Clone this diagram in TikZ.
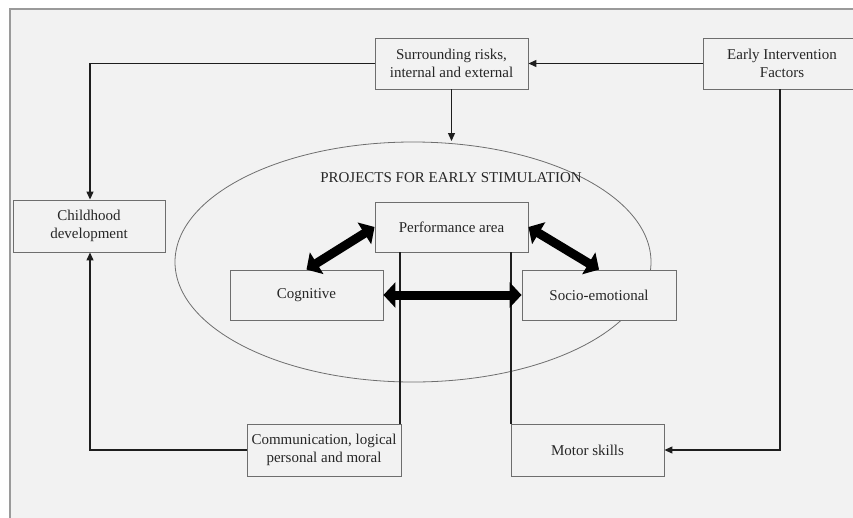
\documentclass[tikz,border=0pt]{standalone}
\usepackage{fontspec}
\setmainfont{Liberation Serif}
\usetikzlibrary{arrows.meta,calc,shapes.geometric}
\definecolor{bgc}{HTML}{F2F2F2}
\definecolor{boxline}{HTML}{6E6E6E}
\definecolor{txt}{HTML}{262626}
\definecolor{conn}{HTML}{1E1E1E}
\tikzset{
  box/.style={draw=boxline, line width=0.9pt, fill=bgc, align=center, text=txt,
    font=\fontsize{15}{17.5}\selectfont, inner sep=0pt},
  conn/.style={draw=conn, line width=1.3pt},
  arr/.style={conn, -{Triangle[length=8pt,width=7pt]}},
  big/.style={draw=black, line width=9pt, {Triangle[length=12pt,width=25pt]}-{Triangle[length=12pt,width=25pt]}},
}
\begin{document}
\begin{tikzpicture}[x=1pt,y=-1pt]
\useasboundingbox (0,0) rectangle (853,517);
\fill[white] (0,0) rectangle (853,517);
\fill[bgc] (10,9) rectangle (880,540);
\draw[boxline!70, line width=1.2pt] (10,540) -- (10,9) -- (880,9);

\node[draw=boxline, line width=0.8pt, ellipse, minimum width=476, minimum height=240, inner sep=0] (ell) at (413,262) {};
\node[text=txt, font=\fontsize{15}{17}\selectfont] (title) at (451,178) {PROJECTS FOR EARLY STIMULATION};

\node[box, minimum width=153, minimum height=51] (sur) at (451.5,63.5) {Surrounding risks,\\internal and external};
\node[box, minimum width=158, minimum height=51] (eif) at (782,63.5) {Early Intervention\\Factors};
\node[box, minimum width=152, minimum height=52] (child) at (89,226) {Childhood\\development};
\node[box, minimum width=153, minimum height=50] (perf) at (451.5,227) {Performance area};
\node[box, minimum width=153, minimum height=50] (cog) at (306.5,295) {Cognitive};
\node[box, minimum width=154, minimum height=50] (socio) at (599,295) {Socio-emotional};
\node[box, minimum width=154, minimum height=52] (comm) at (324,450) {Communication, logical\\personal and moral};
\node[box, minimum width=153, minimum height=52] (motor) at (587.5,450) {Motor skills};

% vertical lines from performance area
\draw[conn, line width=1.2pt] (perf.south -| 400,0) -- (comm.north -| 400,0);
\draw[conn, line width=1.2pt] (perf.south -| 511,0) -- (motor.north -| 511,0);

% connectors
\draw[arr] (sur.west) -| (child.north -| 90,0);
\draw[arr] (eif.west) -- (sur.east);
\draw[arr] (sur.south) -- (sur.south |- 0,141);
\draw[arr] (eif.south -| 780,0) |- (motor.east);
\draw[arr] (comm.west) -| (child.south -| 90,0);

% thick double arrows
\draw[big] (cog.north) -- (perf.west);
\draw[big] (perf.east) -- (socio.north);
\draw[big] (cog.east) -- (socio.west);
\end{tikzpicture}
\end{document}
